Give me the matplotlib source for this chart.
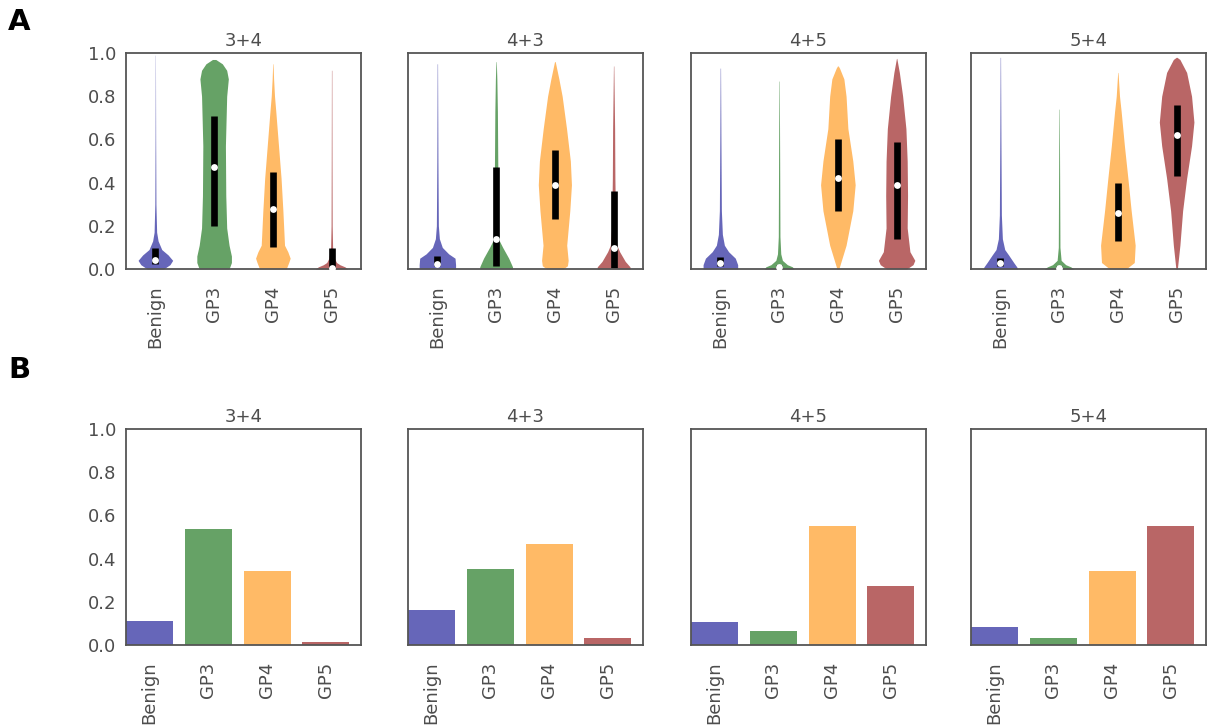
import numpy as np
import matplotlib
matplotlib.use("Agg")
import matplotlib.pyplot as plt

categories = ["Benign", "GP3", "GP4", "GP5"]
panel_titles = ["3+4", "4+3", "4+5", "5+4"]
colors = ["darkblue", "darkgreen", "darkorange", "darkred"]

# panel B: bar heights per panel
bars_34 = [0.113, 0.536, 0.344, 0.012]
bars_43 = [0.162, 0.350, 0.469, 0.031]
bars_45 = [0.108, 0.065, 0.552, 0.275]
bars_54 = [0.085, 0.031, 0.344, 0.551]

# panel A: (q1, median, q3) per category
box_34 = [(0.025, 0.04, 0.095), (0.20, 0.47, 0.71), (0.10, 0.28, 0.45), (0.0, 0.005, 0.096)]
box_43 = [(0.015, 0.025, 0.06), (0.015, 0.14, 0.47), (0.23, 0.39, 0.55), (0.005, 0.096, 0.36)]
box_45 = [(0.015, 0.026, 0.055), (0.0, 0.008, 0.02), (0.27, 0.42, 0.60), (0.14, 0.39, 0.59)]
box_54 = [(0.015, 0.026, 0.05), (0.0, 0.006, 0.012), (0.13, 0.26, 0.40), (0.43, 0.62, 0.76)]

# panel A: violin outlines, (score levels, relative density 0-1) per category
violin_34 = [
    ([0, 0.02, 0.04, 0.065, 0.09, 0.13, 0.17, 0.3, 0.6, 0.99],
     [0.45, 0.8, 0.95, 0.7, 0.35, 0.15, 0.07, 0.03, 0.015, 0.005]),
    ([0, 0.03, 0.06, 0.11, 0.19, 0.34, 0.57, 0.8, 0.88, 0.92, 0.95, 0.97],
     [0.82, 0.95, 0.95, 0.82, 0.69, 0.64, 0.62, 0.69, 0.78, 0.69, 0.45, 0.09]),
    ([0, 0.03, 0.05, 0.08, 0.11, 0.27, 0.42, 0.57, 0.73, 0.8, 0.88, 0.95],
     [0.73, 0.87, 0.95, 0.82, 0.64, 0.55, 0.45, 0.31, 0.16, 0.09, 0.04, 0.01]),
    ([0, 0.01, 0.02, 0.03, 0.05, 0.1, 0.2, 0.5, 0.92],
     [0.9, 0.73, 0.45, 0.27, 0.15, 0.055, 0.03, 0.02, 0.01]),
]
violin_43 = [
    ([0, 0.02, 0.05, 0.07, 0.1, 0.14, 0.2, 0.5, 0.95],
     [1.0, 1.0, 0.97, 0.62, 0.27, 0.11, 0.055, 0.03, 0.01]),
    ([0, 0.01, 0.05, 0.1, 0.13, 0.17, 0.34, 0.5, 0.73, 0.88, 0.96],
     [0.9, 0.9, 0.69, 0.36, 0.18, 0.13, 0.11, 0.09, 0.07, 0.04, 0.01]),
    ([0, 0.015, 0.04, 0.11, 0.27, 0.39, 0.5, 0.65, 0.8, 0.88, 0.96],
     [0.45, 0.69, 0.73, 0.65, 0.82, 0.91, 0.85, 0.64, 0.4, 0.22, 0.02]),
    ([0, 0.01, 0.035, 0.08, 0.11, 0.19, 0.42, 0.65, 0.94],
     [0.9, 0.9, 0.64, 0.33, 0.18, 0.11, 0.07, 0.055, 0.01]),
]
violin_45 = [
    ([0, 0.02, 0.05, 0.08, 0.11, 0.16, 0.27, 0.6, 0.93],
     [0.95, 0.95, 0.82, 0.45, 0.22, 0.11, 0.055, 0.03, 0.01]),
    ([0, 0.01, 0.02, 0.04, 0.07, 0.15, 0.5, 0.87],
     [0.82, 0.73, 0.45, 0.18, 0.09, 0.045, 0.03, 0.01]),
    ([0, 0.11, 0.27, 0.39, 0.5, 0.65, 0.8, 0.88, 0.93, 0.94],
     [0.05, 0.45, 0.82, 0.95, 0.82, 0.55, 0.45, 0.33, 0.09, 0.02]),
    ([0, 0.02, 0.04, 0.08, 0.19, 0.34, 0.5, 0.65, 0.8, 0.91, 0.975],
     [0.55, 0.9, 1.0, 0.73, 0.58, 0.6, 0.58, 0.51, 0.33, 0.15, 0.01]),
]
violin_54 = [
    ([0, 0.01, 0.03, 0.065, 0.09, 0.14, 0.25, 0.6, 0.98],
     [0.95, 0.9, 0.73, 0.45, 0.24, 0.11, 0.055, 0.03, 0.01]),
    ([0, 0.01, 0.02, 0.04, 0.1, 0.4, 0.74],
     [0.82, 0.64, 0.36, 0.11, 0.045, 0.03, 0.01]),
    ([0, 0.03, 0.11, 0.27, 0.42, 0.57, 0.73, 0.8, 0.91],
     [0.45, 0.9, 0.95, 0.73, 0.55, 0.36, 0.18, 0.09, 0.01]),
    ([0, 0.11, 0.27, 0.42, 0.57, 0.68, 0.8, 0.91, 0.97, 0.98],
     [0.04, 0.18, 0.33, 0.55, 0.82, 0.95, 0.82, 0.55, 0.18, 0.02]),
]

bar_sets = [bars_34, bars_43, bars_45, bars_54]
box_sets = [box_34, box_43, box_45, box_54]
violin_sets = [violin_34, violin_43, violin_45, violin_54]

TEXT = "#4d4d4d"
SPINE = "#555555"
HALF_WIDTH = 0.31

W, H = 1207, 726
fig = plt.figure(figsize=(W / 100, H / 100), dpi=100)
lefts = [126, 408, 691, 971]
ax_w, ax_h = 235, 216


def style_axes(ax, first):
    for s in ax.spines.values():
        s.set_color(SPINE)
        s.set_linewidth(1.3)
    ax.set_ylim(0, 1.0)
    ax.tick_params(axis="both", length=0, labelsize=13, labelcolor=TEXT)
    ax.tick_params(axis="x", pad=12, labelrotation=90)
    ax.tick_params(axis="y", pad=7)
    if first:
        ax.set_yticks(np.arange(0, 1.01, 0.2))
        ax.set_yticklabels([f"{v:.1f}" for v in np.arange(0, 1.01, 0.2)])
    else:
        ax.set_yticks([])


for i, title in enumerate(panel_titles):
    # row A: violins
    ax = fig.add_axes([lefts[i] / W, (H - 269) / H, ax_w / W, ax_h / H])
    for j, (ys, ws) in enumerate(violin_sets[i]):
        ys = np.array(ys)
        hw = np.array(ws) * HALF_WIDTH
        ax.fill_betweenx(ys, j - hw, j + hw, color=colors[j], alpha=0.6, linewidth=0)
        q1, med, q3 = box_sets[i][j]
        ax.plot([j, j], [q1, q3], color="black", linewidth=4.8, solid_capstyle="butt")
        ax.scatter([j], [med], s=24, color="white", zorder=3, linewidths=0)
    ax.set_xlim(-0.5, 3.5)
    ax.set_xticks(range(len(categories)))
    ax.set_xticklabels(categories)
    ax.set_title(title, fontsize=13, color=TEXT, pad=5)
    style_axes(ax, i == 0)

    # row B: bars
    ax = fig.add_axes([lefts[i] / W, (H - 645) / H, ax_w / W, ax_h / H])
    x = np.arange(len(categories))
    ax.bar(x, bar_sets[i], width=0.8, align="edge", color=colors, alpha=0.6, linewidth=0)
    ax.set_xlim(0, 4)
    ax.set_xticks(x + 0.4)
    ax.set_xticklabels(categories)
    ax.set_title(title, fontsize=13, color=TEXT, pad=5)
    style_axes(ax, i == 0)

fig.text(8 / W, 1 - 8 / H, "A", fontsize=21, fontweight="bold", va="top", ha="left")
fig.text(8 / W, 1 - 356 / H, "B", fontsize=21, fontweight="bold", va="top", ha="left")

fig.savefig("out.png", dpi=100)
